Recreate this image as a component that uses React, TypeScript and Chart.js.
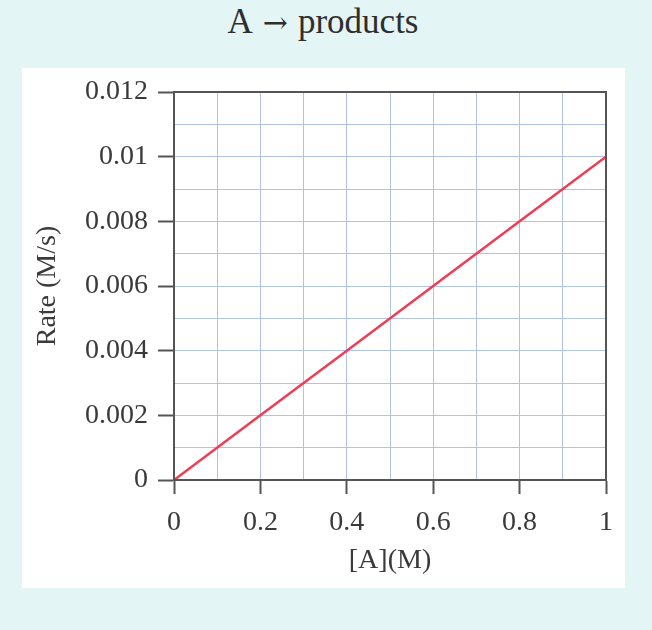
import React, { useEffect, useRef } from "react";
import { Chart, registerables } from "chart.js";

Chart.register(...registerables);

const concentrations = [0, 0.2, 0.4, 0.6, 0.8, 1.0];
const rates = [0, 0.002, 0.004, 0.006, 0.008, 0.01];
const titleReactant = "A";
const titleArrow = "\u2192";
const titleProduct = "products";
const xTitle = "[A](M)";
const yTitle = "Rate (M/s)";

const FONT = "'Liberation Serif', 'Times New Roman', serif";
const AXIS = "#555555";
const GRID = "rgb(176,195,226)";

const framePlugin = {
  id: "frame",
  afterDraw(chart: any) {
    const { ctx, chartArea } = chart;
    ctx.save();
    ctx.strokeStyle = AXIS;
    ctx.lineWidth = 2;
    ctx.strokeRect(chartArea.left, chartArea.top, chartArea.right - chartArea.left, chartArea.bottom - chartArea.top);
    ctx.restore();
  },
};

const fmt = (v: number) => String(parseFloat(v.toFixed(3)));

export default function App() {
  const ref = useRef<HTMLCanvasElement | null>(null);
  useEffect(() => {
    if (!ref.current) return;
    const chart = new Chart(ref.current, {
      type: "line",
      data: {
        datasets: [
          {
            data: concentrations.map((c, i) => ({ x: c, y: rates[i] })),
            borderColor: "#ef3d58",
            borderWidth: 2.5,
            pointRadius: 0,
            tension: 0,
          },
        ],
      },
      options: {
        animation: false,
        responsive: false,
        maintainAspectRatio: false,
        layout: { padding: { top: 23, right: 19, bottom: 0, left: 0 } },
        plugins: { legend: { display: false }, tooltip: { enabled: false }, title: { display: false } },
        scales: {
          x: {
            type: "linear",
            min: 0,
            max: 1,
            afterFit: (s: any) => { s.height = 108; },
            ticks: {
              stepSize: 0.1,
              autoSkip: false,
              maxRotation: 0,
              padding: 12,
              color: "#3a3a3a",
              font: { family: FONT, size: 28 },
              callback: (v: any) => (Math.round(Number(v) * 10) % 2 === 0 ? fmt(Number(v)) : ""),
            },
            grid: {
              color: GRID,
              lineWidth: 1,
              tickLength: 14,
              tickWidth: 2,
              tickColor: (c: any) => (c.tick && Math.round(c.tick.value * 10) % 2 === 0 ? AXIS : "rgba(0,0,0,0)"),
            },
            border: { color: AXIS, width: 2 },
            title: {
              display: true,
              text: xTitle,
              color: "#3a3a3a",
              font: { family: FONT, size: 28 },
              padding: { top: 11, bottom: 11 },
            },
          },
          y: {
            type: "linear",
            min: 0,
            max: 0.012,
            afterFit: (s: any) => { s.width = 152; },
            ticks: {
              stepSize: 0.001,
              autoSkip: false,
              padding: 10,
              color: "#3a3a3a",
              font: { family: FONT, size: 28, lineHeight: 1 },
              callback: (v: any) => (Math.round(Number(v) * 1000) % 2 === 0 ? fmt(Number(v)) : ""),
            },
            grid: {
              color: GRID,
              lineWidth: 1,
              tickLength: 16,
              tickWidth: 2,
              tickColor: (c: any) => (c.tick && Math.round(c.tick.value * 1000) % 2 === 0 ? AXIS : "rgba(0,0,0,0)"),
            },
            border: { color: AXIS, width: 2 },
            title: {
              display: true,
              text: yTitle,
              color: "#3a3a3a",
              font: { family: FONT, size: 28 },
              padding: { top: 9, bottom: 9 },
            },
          },
        },
      },
      plugins: [framePlugin],
    });
    return () => chart.destroy();
  }, []);

  return (
    <div style={{ position: "fixed", left: 0, top: 0, width: 652, height: 630, background: "#e4f5f6", overflow: "hidden" }}>
      <div
        style={{
          position: "absolute",
          left: 0,
          top: 0,
          width: 646,
          textAlign: "center",
          fontFamily: FONT,
          fontSize: 35,
          lineHeight: "44px",
          color: "#2e2e2e",
          whiteSpace: "nowrap",
        }}
      >
        {titleReactant}
        <span style={{ fontFamily: "'DejaVu Serif', serif", fontSize: 30, margin: "0 10px" }}>{titleArrow}</span>
        {titleProduct}
      </div>
      <div style={{ position: "absolute", left: 22, top: 68, width: 603, height: 520, background: "#ffffff" }}>
        <canvas ref={ref} width={603} height={520} style={{ display: "block", width: 603, height: 520 }} />
      </div>
    </div>
  );
}
